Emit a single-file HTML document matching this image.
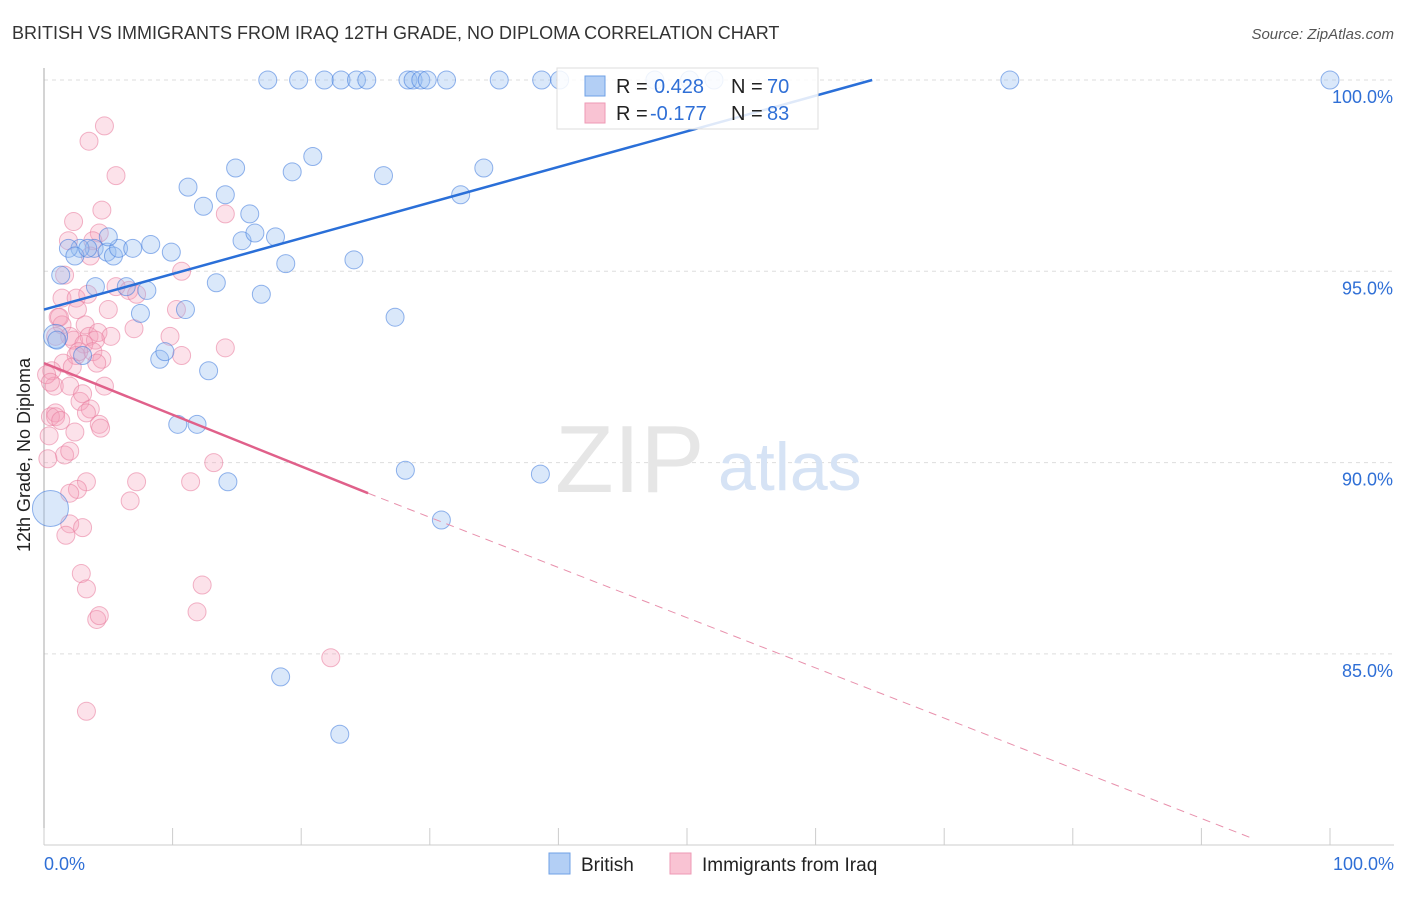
<!DOCTYPE html>
<html><head><meta charset="utf-8"><style>
body{margin:0;background:#fff;font-family:"Liberation Sans",sans-serif;}
svg text{font-family:"Liberation Sans",sans-serif;}
</style></head><body>
<svg id="chart" width="1406" height="892">
<text x="12" y="39" font-size="18" fill="#333">BRITISH VS IMMIGRANTS FROM IRAQ 12TH GRADE, NO DIPLOMA CORRELATION CHART</text>
<text x="1394" y="39" font-size="15" fill="#555" text-anchor="end" font-style="italic">Source: ZipAtlas.com</text>
<text x="30" y="455" font-size="18" fill="#222" text-anchor="middle" transform="rotate(-90 30 455)">12th Grade, No Diploma</text>
<g id="grid"></g>
<text x="555" y="492" font-size="96" fill="#e6e6e6" font-family="Liberation Serif">ZIP</text>
<text x="718" y="490" font-size="68" fill="#d6e3f5">atlas</text>
<g id="pts"></g>
<g id="lines"></g>
<g id="legend">
<rect x="557" y="68" width="261" height="61" fill="#fff" fill-opacity="0.85" stroke="#ddd"/>
<rect x="585" y="76" width="20" height="20" fill="#b3cff5" stroke="#6fa0e6"/>
<rect x="585" y="103" width="20" height="20" fill="#f9c3d3" stroke="#ee9ab4"/>
<text x="616" y="93" font-size="20" fill="#222">R =</text>
<text x="654" y="93" font-size="20" fill="#2f6fd6">0.428</text>
<text x="731" y="93" font-size="20" fill="#222">N =</text>
<text x="767" y="93" font-size="20" fill="#2f6fd6">70</text>
<text x="616" y="120" font-size="20" fill="#222">R =</text>
<text x="650" y="120" font-size="20" fill="#2f6fd6">-0.177</text>
<text x="731" y="120" font-size="20" fill="#222">N =</text>
<text x="767" y="120" font-size="20" fill="#2f6fd6">83</text>
</g>
<g>
<rect x="549" y="853" width="21" height="21" fill="#b3cff5" stroke="#6fa0e6"/>
<text x="581" y="871" font-size="19" fill="#222">British</text>
<rect x="670" y="853" width="21" height="21" fill="#f9c3d3" stroke="#ee9ab4"/>
<text x="702" y="871" font-size="19" fill="#222">Immigrants from Iraq</text>
</g>
</svg>
<script>
const yTicks=[100,95,90,85];
const xTickLabels=["0.0%","100.0%"];
const brX=[17.4,19.8,21.8,23.1,24.3,25.1,28.3,28.7,29.3,29.8,31.3,35.4,38.7,40.1,75.1,100,47.5,50.2,52.1,14.9,20.9,19.3,26.4,34.2,32.4,11.2,12.4,14.1,15.4,18.0,16.0,16.4,3.9,2.8,1.9,2.4,3.4,4.9,5.4,5.8,6.9,8.3,9.9,1.3,18.8,24.1,13.4,16.9,8.0,6.4,7.5,11.0,27.3,9.0,9.4,12.8,10.4,11.9,28.1,38.6,14.3,30.9,0.5,18.4,23.0,0.9,1.0,5.0,4.0,3.0];
const brY=[100,100,100,100,100,100,100,100,100,100,100,100,100,100,100,100,100,100,100,97.7,98.0,97.6,97.5,97.7,97.0,97.2,96.7,97.0,95.8,95.9,96.5,96.0,95.6,95.6,95.6,95.4,95.6,95.5,95.4,95.6,95.6,95.7,95.5,94.9,95.2,95.3,94.7,94.4,94.5,94.6,93.9,94.0,93.8,92.7,92.9,92.4,91.0,91.0,89.8,89.7,89.5,88.5,88.8,84.4,82.9,93.3,93.2,95.9,94.6,92.8];
const brR=[9,9,9,9,9,9,9,9,9,9,9,9,9,9,9,9,9,9,9,9,9,9,9,9,9,9,9,9,9,9,9,9,9,9,9,9,9,9,9,9,9,9,9,9,9,9,9,9,9,9,9,9,9,9,9,9,9,9,9,9,9,9,18,9,9,12,9,9,9,9];
const irX=[4.7,3.5,5.6,4.5,2.3,14.1,1.9,4.3,3.8,3.6,1.6,10.7,1.4,2.5,3.4,5.6,6.6,7.2,10.3,5.0,2.6,1.1,1.4,3.2,0.9,2.0,2.3,3.5,4.2,5.2,9.8,4.0,3.1,2.5,3.8,4.5,10.7,1.5,4.1,2.2,0.6,0.8,2.0,4.7,0.9,2.8,3.6,0.5,0.9,1.3,3.3,4.3,4.4,2.4,0.4,1.6,0.3,3.3,2.6,2.0,7.2,11.4,13.2,6.7,2.0,3.0,1.7,2.9,3.3,4.1,12.3,4.3,11.9,22.3,3.3,0.2,0.5,1.2,2.7,7.0,14.1,3.0,2.0];
const irY=[98.8,98.4,97.5,96.6,96.3,96.5,95.8,96.0,95.8,95.4,94.9,95.0,94.3,94.3,94.4,94.6,94.5,94.4,94.0,94.0,94.0,93.8,93.6,93.6,93.3,93.3,93.2,93.3,93.4,93.3,93.3,93.2,93.1,92.8,92.9,92.7,92.8,92.6,92.6,92.5,92.4,92.0,92.0,92.0,91.3,91.6,91.4,91.2,91.2,91.1,91.3,91.0,90.9,90.8,90.7,90.2,90.1,89.5,89.3,89.2,89.5,89.5,90.0,89.0,88.4,88.3,88.1,87.1,86.7,85.9,86.8,86.0,86.1,84.9,83.5,92.3,92.1,93.8,92.9,93.5,93.0,91.8,90.3];
const brLine=[0,94.0,64.4,100];
const irLine=[0,92.6,25.2,89.2,93.8,80.2];
const X0=44,X1=1330,Y100=80,PX=38.26;
const sx=v=>X0+(X1-X0)*v/100, sy=v=>Y100+(100-v)*PX;
const NS="http://www.w3.org/2000/svg";
function mk(t,a,p){const e=document.createElementNS(NS,t);for(const k in a)e.setAttribute(k,a[k]);p.appendChild(e);return e;}
const grid=document.getElementById('grid');
yTicks.forEach(v=>{
 const l=mk('line',{x1:X0,x2:1394,y1:sy(v),y2:sy(v),stroke:'#ddd','stroke-dasharray':'4,4'},grid);
 
 
 const t=mk('text',{x:1393,y:sy(v)+23,'font-size':18,fill:'#2f6fd6','text-anchor':'end'},grid);
 t.textContent=v.toFixed(1)+'%';
 
 
});
mk('line',{x1:X0,x2:X0,y1:68,y2:845,stroke:'#aaa'},grid);
mk('line',{x1:X0,x2:1394,y1:845,y2:845,stroke:'#ccc'},grid);
for(let i=0;i<=10;i++){mk('line',{x1:sx(i*10),x2:sx(i*10),y1:828,y2:845,stroke:'#ccc'},grid);}
xTickLabels.forEach((s,i)=>{
 const t=mk('text',{x:i?1394:44,y:870,'font-size':18,fill:'#2f6fd6','text-anchor':i?'end':'start'},grid);
 t.textContent=s;
 
 
});
const pts=document.getElementById('pts');
irX.forEach((x,i)=>{
 const c=mk('circle',{cx:sx(x),cy:sy(irY[i]),r:9,fill:'rgba(244,160,186,0.3)',stroke:'rgba(232,120,155,0.55)'},pts);
 
 
});
brX.forEach((x,i)=>{
 const c=mk('circle',{cx:sx(x),cy:sy(brY[i]),r:brR[i],fill:'rgba(150,190,240,0.35)',stroke:'rgba(60,120,220,0.55)'},pts);
 
 
});
const lg=document.getElementById('lines');
const b=mk('line',{x1:sx(brLine[0]),y1:sy(brLine[1]),x2:sx(brLine[2]),y2:sy(brLine[3]),stroke:'#2a6fd8','stroke-width':2.5},lg);


const p1=mk('line',{x1:sx(irLine[0]),y1:sy(irLine[1]),x2:sx(irLine[2]),y2:sy(irLine[3]),stroke:'#e0608a','stroke-width':2.5},lg);


const p2=mk('line',{x1:sx(irLine[2]),y1:sy(irLine[3]),x2:sx(irLine[4]),y2:sy(irLine[5]),stroke:'#e890ac','stroke-width':1,'stroke-dasharray':'8,6'},lg);


document.getElementById('chart').appendChild(document.getElementById('legend'));
</script>
</body></html>
